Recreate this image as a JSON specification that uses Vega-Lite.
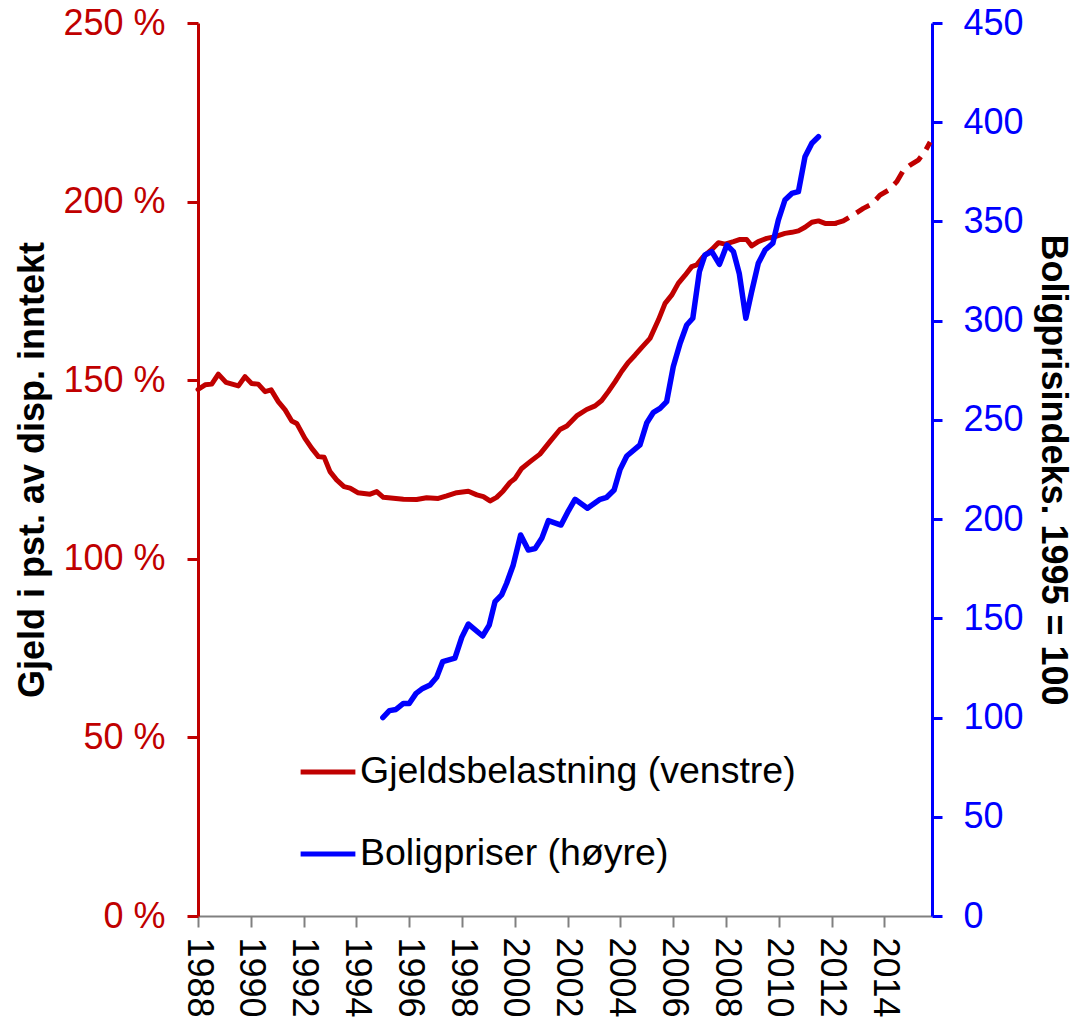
{
  "$schema": "https://vega.github.io/schema/vega-lite/v6.json",
  "width": 734,
  "height": 893,
  "autosize": "none",
  "padding": {"left": 198, "top": 23, "right": 143, "bottom": 109},
  "background": "white",
  "config": {
    "view": {"stroke": null},
    "font": "Liberation Sans",
    "axis": {"grid": false}
  },
  "datasets": {
    "debt": [
      {"t": 1988.0, "v": 147.4, "part": "hist"},
      {"t": 1988.27, "v": 148.7, "part": "hist"},
      {"t": 1988.52, "v": 148.9, "part": "hist"},
      {"t": 1988.77, "v": 151.7, "part": "hist"},
      {"t": 1989.06, "v": 149.4, "part": "hist"},
      {"t": 1989.53, "v": 148.4, "part": "hist"},
      {"t": 1989.78, "v": 151.0, "part": "hist"},
      {"t": 1990.03, "v": 149.1, "part": "hist"},
      {"t": 1990.28, "v": 148.9, "part": "hist"},
      {"t": 1990.54, "v": 146.8, "part": "hist"},
      {"t": 1990.77, "v": 147.3, "part": "hist"},
      {"t": 1991.04, "v": 144.0, "part": "hist"},
      {"t": 1991.30, "v": 141.7, "part": "hist"},
      {"t": 1991.55, "v": 138.6, "part": "hist"},
      {"t": 1991.74, "v": 137.9, "part": "hist"},
      {"t": 1992.05, "v": 133.7, "part": "hist"},
      {"t": 1992.31, "v": 130.9, "part": "hist"},
      {"t": 1992.56, "v": 128.6, "part": "hist"},
      {"t": 1992.78, "v": 128.4, "part": "hist"},
      {"t": 1993.00, "v": 124.4, "part": "hist"},
      {"t": 1993.25, "v": 122.1, "part": "hist"},
      {"t": 1993.53, "v": 120.2, "part": "hist"},
      {"t": 1993.76, "v": 119.8, "part": "hist"},
      {"t": 1994.05, "v": 118.5, "part": "hist"},
      {"t": 1994.52, "v": 118.1, "part": "hist"},
      {"t": 1994.77, "v": 118.8, "part": "hist"},
      {"t": 1995.02, "v": 117.2, "part": "hist"},
      {"t": 1995.78, "v": 116.7, "part": "hist"},
      {"t": 1996.28, "v": 116.6, "part": "hist"},
      {"t": 1996.66, "v": 117.1, "part": "hist"},
      {"t": 1997.10, "v": 116.9, "part": "hist"},
      {"t": 1997.42, "v": 117.6, "part": "hist"},
      {"t": 1997.80, "v": 118.5, "part": "hist"},
      {"t": 1998.24, "v": 118.9, "part": "hist"},
      {"t": 1998.56, "v": 117.9, "part": "hist"},
      {"t": 1998.81, "v": 117.4, "part": "hist"},
      {"t": 1999.06, "v": 116.2, "part": "hist"},
      {"t": 1999.31, "v": 117.2, "part": "hist"},
      {"t": 1999.56, "v": 119.0, "part": "hist"},
      {"t": 1999.82, "v": 121.4, "part": "hist"},
      {"t": 2000.01, "v": 122.5, "part": "hist"},
      {"t": 2000.26, "v": 125.3, "part": "hist"},
      {"t": 2000.58, "v": 127.2, "part": "hist"},
      {"t": 2000.95, "v": 129.3, "part": "hist"},
      {"t": 2001.33, "v": 132.8, "part": "hist"},
      {"t": 2001.71, "v": 136.2, "part": "hist"},
      {"t": 2001.97, "v": 137.2, "part": "hist"},
      {"t": 2002.34, "v": 140.0, "part": "hist"},
      {"t": 2002.72, "v": 141.8, "part": "hist"},
      {"t": 2003.04, "v": 142.8, "part": "hist"},
      {"t": 2003.29, "v": 144.3, "part": "hist"},
      {"t": 2003.54, "v": 146.8, "part": "hist"},
      {"t": 2003.80, "v": 149.6, "part": "hist"},
      {"t": 2004.05, "v": 152.5, "part": "hist"},
      {"t": 2004.30, "v": 155.0, "part": "hist"},
      {"t": 2004.55, "v": 157.0, "part": "hist"},
      {"t": 2004.81, "v": 159.2, "part": "hist"},
      {"t": 2005.12, "v": 161.7, "part": "hist"},
      {"t": 2005.44, "v": 166.9, "part": "hist"},
      {"t": 2005.69, "v": 171.5, "part": "hist"},
      {"t": 2005.94, "v": 173.8, "part": "hist"},
      {"t": 2006.19, "v": 177.1, "part": "hist"},
      {"t": 2006.45, "v": 179.4, "part": "hist"},
      {"t": 2006.70, "v": 181.8, "part": "hist"},
      {"t": 2006.89, "v": 182.3, "part": "hist"},
      {"t": 2007.14, "v": 184.6, "part": "hist"},
      {"t": 2007.46, "v": 186.6, "part": "hist"},
      {"t": 2007.71, "v": 188.5, "part": "hist"},
      {"t": 2007.96, "v": 188.1, "part": "hist"},
      {"t": 2008.28, "v": 188.8, "part": "hist"},
      {"t": 2008.53, "v": 189.4, "part": "hist"},
      {"t": 2008.78, "v": 189.4, "part": "hist"},
      {"t": 2008.97, "v": 187.6, "part": "hist"},
      {"t": 2009.22, "v": 188.8, "part": "hist"},
      {"t": 2009.54, "v": 189.7, "part": "hist"},
      {"t": 2009.86, "v": 190.2, "part": "hist"},
      {"t": 2010.23, "v": 191.1, "part": "hist"},
      {"t": 2010.49, "v": 191.4, "part": "hist"},
      {"t": 2010.74, "v": 191.8, "part": "hist"},
      {"t": 2010.99, "v": 192.8, "part": "hist"},
      {"t": 2011.25, "v": 194.2, "part": "hist"},
      {"t": 2011.50, "v": 194.6, "part": "hist"},
      {"t": 2011.75, "v": 193.9, "part": "hist"},
      {"t": 2012.13, "v": 193.9, "part": "hist"},
      {"t": 2012.13, "v": 193.9, "part": "proj"},
      {"t": 2012.44, "v": 194.6, "part": "proj"},
      {"t": 2012.82, "v": 196.3, "part": "proj"},
      {"t": 2013.20, "v": 198.1, "part": "proj"},
      {"t": 2013.52, "v": 199.3, "part": "proj"},
      {"t": 2013.83, "v": 201.8, "part": "proj"},
      {"t": 2014.15, "v": 203.2, "part": "proj"},
      {"t": 2014.47, "v": 205.6, "part": "proj"},
      {"t": 2014.72, "v": 208.8, "part": "proj"},
      {"t": 2014.97, "v": 210.2, "part": "proj"},
      {"t": 2015.28, "v": 211.6, "part": "proj"},
      {"t": 2015.53, "v": 214.0, "part": "proj"},
      {"t": 2015.73, "v": 216.7, "part": "proj"}
    ],
    "house": [
      {"t": 1995.00, "v": 100.0},
      {"t": 1995.25, "v": 103.5},
      {"t": 1995.50, "v": 104.1},
      {"t": 1995.78, "v": 107.1},
      {"t": 1996.00, "v": 107.1},
      {"t": 1996.26, "v": 112.2},
      {"t": 1996.51, "v": 114.7},
      {"t": 1996.79, "v": 116.4},
      {"t": 1997.04, "v": 120.3},
      {"t": 1997.27, "v": 128.2},
      {"t": 1997.73, "v": 129.9},
      {"t": 1997.99, "v": 140.4},
      {"t": 1998.24, "v": 147.1},
      {"t": 1998.78, "v": 141.1},
      {"t": 1999.03, "v": 146.6},
      {"t": 1999.25, "v": 158.4},
      {"t": 1999.50, "v": 161.8},
      {"t": 1999.69, "v": 167.7},
      {"t": 1999.94, "v": 176.9},
      {"t": 2000.22, "v": 192.0},
      {"t": 2000.51, "v": 184.4},
      {"t": 2000.77, "v": 185.2},
      {"t": 2001.02, "v": 190.3},
      {"t": 2001.27, "v": 199.2},
      {"t": 2001.75, "v": 197.0},
      {"t": 2002.03, "v": 204.2},
      {"t": 2002.28, "v": 210.0},
      {"t": 2002.75, "v": 205.5},
      {"t": 2003.23, "v": 210.0},
      {"t": 2003.48, "v": 211.0},
      {"t": 2003.76, "v": 214.7},
      {"t": 2003.98, "v": 224.8},
      {"t": 2004.24, "v": 231.8},
      {"t": 2004.74, "v": 237.4},
      {"t": 2005.00, "v": 248.6},
      {"t": 2005.25, "v": 253.8},
      {"t": 2005.50, "v": 255.8},
      {"t": 2005.75, "v": 259.2},
      {"t": 2006.00, "v": 276.8},
      {"t": 2006.26, "v": 288.6},
      {"t": 2006.51, "v": 297.8},
      {"t": 2006.74, "v": 301.2},
      {"t": 2006.99, "v": 324.7},
      {"t": 2007.20, "v": 333.1},
      {"t": 2007.46, "v": 334.8},
      {"t": 2007.75, "v": 328.4},
      {"t": 2008.03, "v": 338.1},
      {"t": 2008.28, "v": 334.8},
      {"t": 2008.50, "v": 323.8},
      {"t": 2008.75, "v": 301.2},
      {"t": 2008.97, "v": 314.6},
      {"t": 2009.22, "v": 328.9},
      {"t": 2009.48, "v": 335.6},
      {"t": 2009.77, "v": 339.0},
      {"t": 2009.98, "v": 350.7},
      {"t": 2010.23, "v": 360.8},
      {"t": 2010.49, "v": 364.1},
      {"t": 2010.74, "v": 365.0},
      {"t": 2010.99, "v": 382.6},
      {"t": 2011.25, "v": 389.4},
      {"t": 2011.50, "v": 392.7}
    ]
  },
  "layer": [
    {
      "data": {"name": "debt"},
      "encoding": {
        "x": {
          "field": "t", "type": "quantitative",
          "scale": {"domain": [1988, 2015.8], "nice": false, "zero": false},
          "axis": {
            "values": [1988, 1990, 1992, 1994, 1996, 1998, 2000, 2002, 2004, 2006, 2008, 2010, 2012, 2014],
            "format": "d", "title": null, "labelAngle": 90, "labelFontSize": 36,
            "labelColor": "#000000", "domainColor": "#808080", "domainWidth": 2,
            "tickColor": "#808080", "tickWidth": 2, "tickSize": 11, "labelPadding": 10,
            "labelOverlap": false
          }
        },
        "y": {
          "field": "v", "type": "quantitative",
          "scale": {"domain": [0, 250], "nice": false},
          "axis": {
            "values": [0, 50, 100, 150, 200, 250],
            "labelExpr": "datum.value + ' %'",
            "title": "Gjeld i pst. av disp. inntekt",
            "titleFontSize": 36, "titleFontWeight": "bold", "titleColor": "#000000",
            "labelFontSize": 36, "labelColor": "#C00000",
            "domainColor": "#C00000", "domainWidth": 3,
            "tickColor": "#C00000", "tickWidth": 3, "tickSize": 11,
            "labelPadding": 22, "titlePadding": 11
          }
        },
        "color": {
          "datum": "Gjeldsbelastning (venstre)",
          "type": "nominal",
          "scale": {
            "domain": ["Gjeldsbelastning (venstre)", "Boligpriser (høyre)"],
            "range": ["#C00000", "#0000FF"]
          },
          "legend": {
            "title": null, "orient": "none", "legendX": 100, "legendY": 719,
            "direction": "vertical", "symbolType": "stroke", "symbolSize": 3000,
            "symbolStrokeWidth": 5, "labelFontSize": 37.5, "labelColor": "#000000",
            "labelOffset": 2, "rowPadding": 33, "labelLimit": 600
          }
        }
      },
      "layer": [
        {
          "transform": [{"filter": "datum.part == 'hist'"}],
          "mark": {"type": "line", "strokeWidth": 5, "strokeJoin": "round", "strokeCap": "round"}
        },
        {
          "transform": [{"filter": "datum.part == 'proj'"}],
          "mark": {"type": "line", "strokeWidth": 5, "strokeDash": [15, 9], "strokeJoin": "round"}
        }
      ]
    },
    {
      "data": {"name": "house"},
      "mark": {"type": "line", "strokeWidth": 5.5, "strokeJoin": "round", "strokeCap": "round"},
      "encoding": {
        "x": {"field": "t", "type": "quantitative"},
        "y": {
          "field": "v", "type": "quantitative",
          "scale": {"domain": [0, 450], "nice": false},
          "axis": {
            "orient": "right",
            "values": [0, 50, 100, 150, 200, 250, 300, 350, 400, 450],
            "title": "Boligprisindeks. 1995 = 100",
            "titleFontSize": 36, "titleFontWeight": "bold", "titleColor": "#000000",
            "labelFontSize": 36, "labelColor": "#0000FF",
            "domainColor": "#0000FF", "domainWidth": 3,
            "tickColor": "#0000FF", "tickWidth": 3, "tickSize": 10,
            "labelPadding": 21, "titlePadding": 10
          }
        },
        "color": {"datum": "Boligpriser (høyre)", "type": "nominal"}
      }
    }
  ],
  "resolve": {"scale": {"y": "independent"}}
}
